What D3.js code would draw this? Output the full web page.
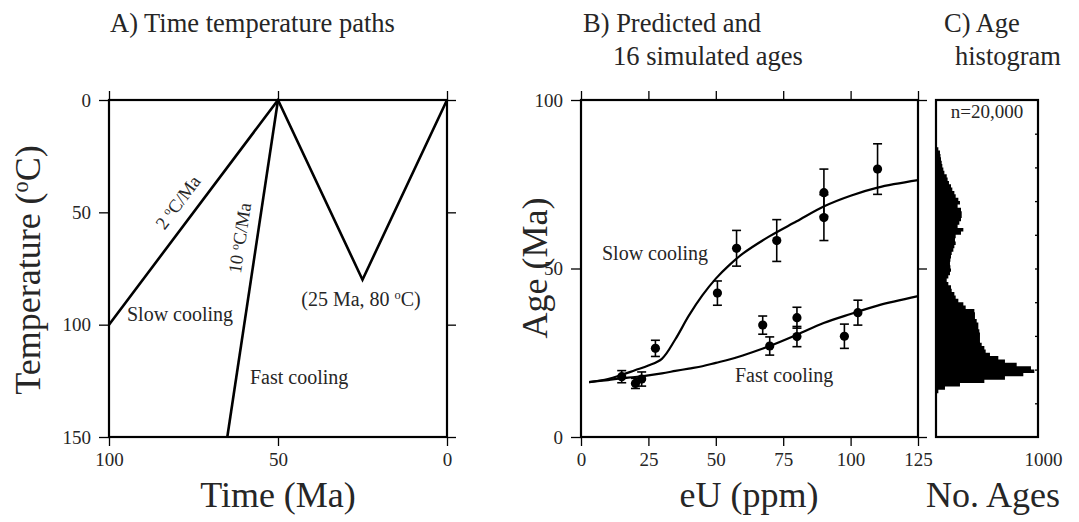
<!DOCTYPE html>
<html><head><meta charset="utf-8">
<script src="https://cdn.jsdelivr.net/npm/d3@7"></script>
<style>
body{margin:0;background:#fff}
svg{display:block}
svg text{font-family:"Liberation Serif","Tinos","Times New Roman","DejaVu Serif",serif !important;fill:#262626}
.tick line{stroke:#000;stroke-width:1.3}
.tick text{font-size:19px}
</style>
</head><body>
<svg id="c" width="1079" height="522" font-family="Liberation Serif, serif"></svg>
<script>
// ---------- Panel A: time-temperature paths ----------
const timeTicks = [100, 50, 0];
const tempTicks = [0, 50, 100, 150];
const slowTime = [100, 50, 25, 0];
const slowTemp = [100, 0, 80, 0];
const fastTime = [65, 50];
const fastTemp = [150, 0];

// ---------- Panel B: predicted and simulated ages ----------
const eUTicks = [0, 25, 50, 75, 100, 125];
const ageTicks = [0, 50, 100];
const curveEU   = [3, 10, 15, 20, 25, 30, 35, 40, 45, 50, 55, 60, 70, 80, 90, 100, 110, 125];
const slowAge   = [16.3, 17.2, 18.4, 19.8, 21.2, 23.2, 29.0, 36.0, 42.0, 47.0, 51.0, 54.4, 59.6, 64.0, 68.4, 71.6, 74.0, 76.2];
const fastAge   = [16.3, 16.9, 17.4, 17.8, 18.3, 18.9, 19.6, 20.3, 21.0, 22.0, 23.0, 24.2, 27.0, 30.3, 33.8, 36.5, 39.0, 41.8];
const obsEU  = [15.1, 20.2, 22.5, 27.6, 50.6, 57.7, 72.6, 90.1, 90.1, 110.0, 67.4, 70.0, 80.1, 80.1, 97.7, 102.7];
const obsAge = [17.9, 15.9, 17.2, 26.3, 42.7, 56.0, 58.3, 72.5, 65.1, 79.5, 33.2, 27.0, 35.4, 29.8, 29.9, 36.9];
const obsErr = [1.8, 1.5, 2.1, 2.4, 3.6, 5.3, 6.2, 7.0, 6.8, 7.5, 2.7, 2.7, 3.1, 3.0, 3.6, 3.7];

// ---------- Panel C: age histogram (1 Ma bins) ----------
const histStart = [13,14,15,16,17,18,19,20,21,22,23,24,25,26,27,28,29,30,31,32,33,34,35,36,37,38,39,40,41,42,43,44,45,46,47,48,49,50,51,52,53,54,55,56,57,58,59,60,61,62,63,64,65,66,67,68,69,70,71,72,73,74,75,76,77,78,79,80,81,82,83,84,85];
const histCount = [23,88,235,474,676,856,964,931,791,676,611,529,487,474,448,431,431,431,425,415,415,399,382,382,376,291,268,219,193,180,154,147,121,105,121,137,147,141,137,141,147,154,170,180,193,186,193,245,268,212,229,245,252,252,245,212,235,219,193,180,160,147,127,114,105,82,72,62,56,49,44,39,23];
const histTickAges = [10,20,30,40,50,60,70,80,90];
const countTicks = [1000];

const svg = d3.select("#c");

function sup(textSel, before, after) {
  textSel.append("tspan").text(before);
  textSel.append("tspan").attr("font-size","0.62em").attr("dy","-0.55em").text("o");
  textSel.append("tspan").attr("dy","0.34em").text(after);
}

function frameAxes(x, y, xt, yt) {
  const x0 = Math.min(...x.range()), x1 = Math.max(...x.range());
  const y0 = Math.min(...y.range()), y1 = Math.max(...y.range());
  const b = svg.append("g").attr("transform",`translate(0,${y1})`)
    .call(d3.axisBottom(x).tickValues(xt).tickSize(9).tickSizeOuter(0).tickPadding(7).tickFormat(d3.format("d")));
  const t = svg.append("g").attr("transform",`translate(0,${y0})`)
    .call(d3.axisTop(x).tickValues(xt).tickSize(9).tickSizeOuter(0).tickFormat(""));
  const l = svg.append("g").attr("transform",`translate(${x0},0)`)
    .call(d3.axisLeft(y).tickValues(yt).tickSize(10).tickSizeOuter(0).tickPadding(8).tickFormat(d3.format("d")));
  const r = svg.append("g").attr("transform",`translate(${x1},0)`)
    .call(d3.axisRight(y).tickValues(yt).tickSize(9).tickSizeOuter(0).tickFormat(""));
  [b,t,l,r].forEach(g => { g.select(".domain").remove(); g.attr("font-family", null); });
  svg.append("rect").attr("x",x0).attr("y",y0).attr("width",x1-x0).attr("height",y1-y0)
    .attr("fill","none").attr("stroke","#000").attr("stroke-width",2.2);
}

// ===== Panel A =====
const xA = d3.scaleLinear().domain([100,0]).range([109,447]);
const yA = d3.scaleLinear().domain([0,150]).range([100,437]);
const lineA = d3.line().x(d=>xA(d[0])).y(d=>yA(d[1]));
svg.append("path").attr("d", lineA(slowTime.map((t,i)=>[t,slowTemp[i]])))
  .attr("fill","none").attr("stroke","#000").attr("stroke-width",2.6).attr("stroke-linejoin","miter");
svg.append("path").attr("d", lineA(fastTime.map((t,i)=>[t,fastTemp[i]])))
  .attr("fill","none").attr("stroke","#000").attr("stroke-width",2.6);
frameAxes(xA, yA, timeTicks, tempTicks);

const angSlow = Math.atan2(yA(slowTemp[1])-yA(slowTemp[0]), xA(slowTime[1])-xA(slowTime[0]))*180/Math.PI;
const angFast = Math.atan2(yA(fastTemp[1])-yA(fastTemp[0]), xA(fastTime[1])-xA(fastTime[0]))*180/Math.PI;
sup(svg.append("text").attr("transform",`translate(183,206) rotate(${angSlow})`)
  .attr("text-anchor","middle").attr("font-size",18.5), "2 ", "C/Ma");
sup(svg.append("text").attr("transform",`translate(246,239) rotate(${angFast})`)
  .attr("text-anchor","middle").attr("font-size",18.5), "10 ", "C/Ma");
svg.append("text").attr("x",127).attr("y",321).attr("font-size",20).text("Slow cooling");
svg.append("text").attr("x",250).attr("y",384).attr("font-size",20).text("Fast cooling");
sup(svg.append("text").attr("x",361).attr("y",306).attr("text-anchor","middle").attr("font-size",20), "(25 Ma, 80 ", "C)");

svg.append("text").attr("x",110).attr("y",32).attr("font-size",26.5).text("A) Time temperature paths");
svg.append("text").attr("x",278).attr("y",507).attr("text-anchor","middle").attr("font-size",36).text("Time (Ma)");
sup(svg.append("text").attr("transform","translate(40,270) rotate(-90)").attr("text-anchor","middle").attr("font-size",36), "Temperature (", "C)");

// ===== Panel B =====
const xB = d3.scaleLinear().domain([0,125]).range([581,918]);
const yB = d3.scaleLinear().domain([0,100]).range([437,100]);
const lineB = d3.line().x(d=>xB(d[0])).y(d=>yB(d[1])).curve(d3.curveCatmullRom.alpha(0.5));
svg.append("path").attr("d", lineB(curveEU.map((e,i)=>[e,slowAge[i]])))
  .attr("fill","none").attr("stroke","#000").attr("stroke-width",2.2);
svg.append("path").attr("d", lineB(curveEU.map((e,i)=>[e,fastAge[i]])))
  .attr("fill","none").attr("stroke","#000").attr("stroke-width",2.2);
const pts = obsEU.map((e,i)=>({e, a:obsAge[i], s:obsErr[i]}));
const pg = svg.append("g");
pts.forEach(p=>{
  const cx = xB(p.e), ylo = yB(p.a-p.s), yhi = yB(p.a+p.s);
  pg.append("line").attr("x1",cx).attr("x2",cx).attr("y1",ylo).attr("y2",yhi).attr("stroke","#000").attr("stroke-width",1.6);
  pg.append("line").attr("x1",cx-4.5).attr("x2",cx+4.5).attr("y1",ylo).attr("y2",ylo).attr("stroke","#000").attr("stroke-width",1.6);
  pg.append("line").attr("x1",cx-4.5).attr("x2",cx+4.5).attr("y1",yhi).attr("y2",yhi).attr("stroke","#000").attr("stroke-width",1.6);
  pg.append("circle").attr("cx",cx).attr("cy",yB(p.a)).attr("r",4.6).attr("fill","#000");
});
frameAxes(xB, yB, eUTicks, ageTicks);
svg.append("text").attr("x",602).attr("y",260).attr("font-size",20).text("Slow cooling");
svg.append("text").attr("x",735).attr("y",382).attr("font-size",20).text("Fast cooling");
svg.append("text").attr("x",583).attr("y",32).attr("font-size",26.5).text("B) Predicted and");
svg.append("text").attr("x",613).attr("y",65).attr("font-size",26.5).text("16 simulated ages");
svg.append("text").attr("x",749).attr("y",507).attr("text-anchor","middle").attr("font-size",36).text("eU (ppm)");
svg.append("text").attr("transform","translate(547,268) rotate(-90)").attr("text-anchor","middle").attr("font-size",36).text("Age (Ma)");

// ===== Panel C =====
const xC = d3.scaleLinear().domain([0,1000]).range([936,1038]);
const yC = yB;
const stepPts = histStart.map((a,i)=>({a, c:histCount[i]}));
stepPts.push({a: histStart[histStart.length-1]+1, c: 0});
const area = d3.area().curve(d3.curveStepBefore)
  .y(d=>yC(d.a)).x0(xC(0)).x1(d=>xC(d.c));
svg.append("path").attr("d", area(stepPts)).attr("fill","#000");
const hr = svg.append("g").attr("transform",`translate(${xC(1000)},0)`)
  .call(d3.axisLeft(yC).tickValues(histTickAges).tickSize(3).tickSizeOuter(0).tickFormat(""));
hr.select(".domain").remove();
hr.selectAll(".tick line").attr("stroke","#888").attr("stroke-width",1);
svg.append("rect").attr("x",xC(0)).attr("y",yC(100)).attr("width",xC(1000)-xC(0)).attr("height",yC(0)-yC(100))
  .attr("fill","none").attr("stroke","#000").attr("stroke-width",2.2);
const hb = svg.append("g").attr("transform",`translate(0,${yC(0)})`)
  .call(d3.axisBottom(xC).tickValues(countTicks).tickSize(0).tickPadding(16).tickFormat(d3.format("d")));
hb.select(".domain").remove();
hb.attr("font-family", null);
hb.selectAll("text").attr("dx",5);
svg.append("text").attr("x",987).attr("y",118).attr("text-anchor","middle").attr("font-size",19).text("n=20,000");
svg.append("text").attr("x",944).attr("y",32).attr("font-size",26.5).text("C) Age");
svg.append("text").attr("x",955).attr("y",65).attr("font-size",26.5).text("histogram");
svg.append("text").attr("x",993).attr("y",507).attr("text-anchor","middle").attr("font-size",36).text("No. Ages");
</script>
</body></html>
